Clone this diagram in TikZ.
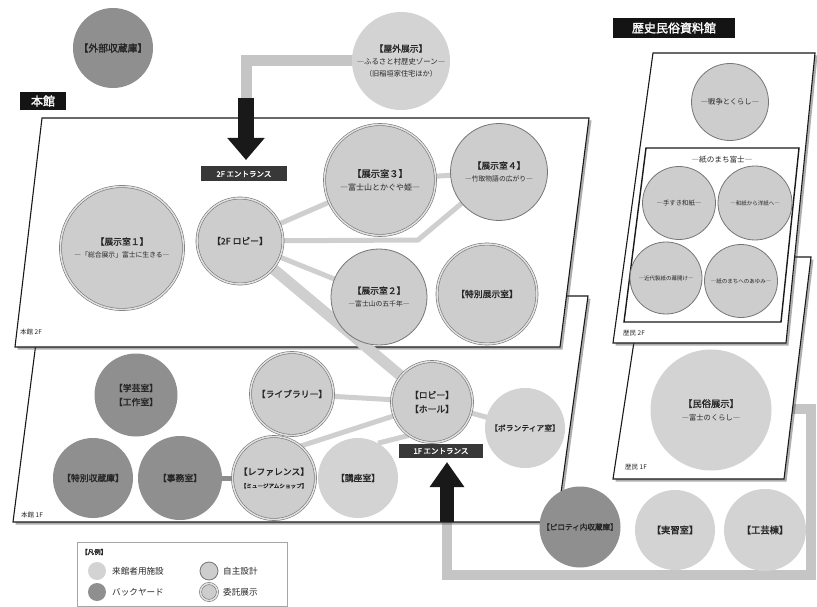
\documentclass[tikz,border=0pt]{standalone}
\usepackage{fontspec}
\setmainfont[AutoFakeBold=1.6]{Noto Sans CJK JP}
\usetikzlibrary{shadows,arrows.meta}
\definecolor{lite}{HTML}{D3D3D3}
\definecolor{dark}{HTML}{8F8F8F}
\definecolor{exh}{HTML}{CDCDCD}
\definecolor{rim}{HTML}{767676}
\definecolor{lnk}{HTML}{CFCFCF}
\definecolor{txt}{HTML}{262626}
\pgfdeclarelayer{under}
\pgfdeclarelayer{panels}
\pgfdeclarelayer{links}
\pgfsetlayers{under,panels,links,main}
\newcommand\mytitle[1]{{\bfseries\fontsize{8.8}{11}\selectfont #1}}
\newcommand\mysub[1]{{\fontsize{6.8}{8.5}\selectfont #1}}
\begin{document}
\begin{tikzpicture}[x=1pt,y=-1pt,
  base/.style={circle,inner sep=0pt,text=txt,align=center},
  visitor/.style={base,fill=lite},
  backyard/.style={base,fill=dark},
  own/.style={base,fill=exh,draw=rim,line width=0.8pt},
  entrust/.style={base,fill=exh,draw=rim,line width=0.6pt,double=exh!60,double distance=1.5pt},
  panel/.style={fill=white,draw=black!90,line width=1.1pt,drop shadow={shadow xshift=2.5pt,shadow yshift=-2.5pt,opacity=0.45,fill=black!70}},
  link/.style={draw=lnk,line width=5pt},
  band/.style={draw=lnk,line width=11pt},
  route/.style={draw=lnk!95!black,line width=10pt},
  tag/.style={fill=black!78,text=white,inner sep=0pt,font=\bfseries\fontsize{7.5}{9}\selectfont},
  bigtag/.style={fill=black!92,text=white,inner sep=0pt,font=\bfseries\fontsize{12}{14}\selectfont},
  floor/.style={anchor=west,text=txt,font=\fontsize{6.5}{8}\selectfont,inner sep=0pt},
  bigarrow/.style={draw=black!90,line width=16pt,-{Triangle[width=36pt,length=22pt]}}
]
\useasboundingbox (0,0) rectangle (817,607);
\begin{pgfonlayer}{under}
\fill[white] (0,0) rectangle (817,607);
\end{pgfonlayer}

% ---------- circles ----------
\node[backyard,minimum size=80] (gaibu) at (113,48) {{\bfseries\fontsize{9.8}{11}\selectfont 【外部収蔵庫】}};
\node[visitor,minimum size=98] (outdoor) at (401,61) {\mytitle{【屋外展示】}\\[1pt]{\fontsize{7.4}{9}\selectfont ―ふるさと村歴史ゾーン―}\\{\fontsize{7.2}{9}\selectfont （旧稲垣家住宅ほか）}};

% 2F
\node[entrust,minimum size=123] (ex1) at (122,248) {\mytitle{【展示室１】}\\[1pt]\mysub{―「総合展示」富士に生きる―}};
\node[entrust,minimum size=86] (lobby2) at (240,241) {\mytitle{【2F ロビー】}};
\node[entrust,minimum size=111] (ex3) at (380,180) {{\bfseries\fontsize{9.3}{11}\selectfont 【展示室３】}\\[1pt]{\fontsize{8}{9.5}\selectfont ―富士山とかぐや姫―}};
\node[own,minimum size=97] (ex4) at (499,172) {\mytitle{【展示室４】}\\[1pt]\mysub{―竹取物語の広がり―}};
\node[own,minimum size=96] (ex2) at (379,297) {\mytitle{【展示室２】}\\[1pt]\mysub{―富士山の五千年―}};
\node[entrust,minimum size=100] (tokubetsu) at (487,294) {\mytitle{【特別展示室】}};

% 1F
\node[backyard,minimum size=83] (gakugei) at (136,395) {\mytitle{【学芸室】}\\[2pt]\mytitle{【工作室】}};
\node[backyard,minimum size=80] (tokushu) at (93,478) {\mytitle{【特別収蔵庫】}};
\node[backyard,minimum size=84] (jimu) at (180,478) {\mytitle{【事務室】}};
\node[entrust,minimum size=83] (lib) at (292,394) {\mytitle{【ライブラリー】}};
\node[entrust,minimum size=83] (ref) at (274,478) {\mytitle{【レファレンス】}\\[1pt]{\bfseries\fontsize{5.6}{7}\selectfont 【ミュージアムショップ】}};
\node[visitor,minimum size=80] (kouza) at (358,478) {\mytitle{【講座室】}};
\node[entrust,minimum size=81] (lobby1) at (432,402) {\mytitle{【ロビー】}\\[2pt]\mytitle{【ホール】}};
\node[visitor,minimum size=80] (volunteer) at (525,428) {{\bfseries\fontsize{7.8}{9}\selectfont 【ボランティア室】}};

% 歴民
\node[own,minimum size=77] (sensou) at (730,102) {{\fontsize{7.3}{8}\selectfont ―戦争とくらし―}};
\node[own,minimum size=73] (kami1) at (679,203) {{\fontsize{6.4}{8}\selectfont ―手すき和紙―}};
\node[own,minimum size=74] (kami2) at (755,203) {{\fontsize{5.5}{7}\selectfont ―和紙から洋紙へ―}};
\node[own,minimum size=72] (kami3) at (666,278) {{\fontsize{5.5}{7}\selectfont ―近代製紙の幕開け―}};
\node[own,minimum size=73] (kami4) at (741,281) {{\fontsize{5.5}{7}\selectfont ―紙のまちへのあゆみ―}};
\node[visitor,minimum size=121] (minzoku) at (711,410) {{\bfseries\fontsize{9.3}{11}\selectfont 【民俗展示】}\\[1pt]{\fontsize{7.3}{8.5}\selectfont ―富士のくらし―}};

% bottom row
\node[backyard,minimum size=81] (piloti) at (580,527) {{\bfseries\fontsize{7.6}{9}\selectfont 【ピロティ内収蔵庫】}};
\node[visitor,minimum size=80] (jisshu) at (675,530) {{\bfseries\fontsize{9.3}{11}\selectfont 【実習室】}};
\node[visitor,minimum size=82] (kougei) at (765,530) {{\bfseries\fontsize{9.3}{11}\selectfont 【工芸棟】}};

% ---------- labels ----------
\node[bigtag,minimum width=46,minimum height=18] (honkan) at (43,101) {本館};
\node[bigtag,minimum width=122,minimum height=20] (rekimin) at (674,28) {歴史民俗資料館};
\node[tag,minimum width=86,minimum height=15] (ent2) at (244,174) {2F エントランス};
\node[tag,minimum width=84,minimum height=14] (ent1) at (441,451) {1F エントランス};
\node[floor] (f2) at (20,332) {本館 2F};
\node[floor] (f1) at (21,515) {本館 1F};
\node[floor] (r2) at (623,333) {歴民 2F};
\node[floor] (r1) at (625,467) {歴民 1F};

% ---------- routes & panels ----------
\coordinate (ent2top) at (246,98);
\coordinate (ent2tip) at (246,160);
\coordinate (ent1bot) at (447,522);
\coordinate (ent1tip) at (447,462);
\coordinate (loopA) at (447,575);
\coordinate (loopB) at (811,575);
\coordinate (loopC) at (811,409);
\coordinate (loopend) at (785,409);
\begin{pgfonlayer}{under}
\draw[route,line width=11pt] (outdoor.center) -| (ent2top);
\draw[route,line join=miter] (ent1bot) -- (loopA) -- (loopB) -- (loopC) -- (loopend);
\draw[route,line width=6pt] (jisshu) -- (jisshu |- loopA);
\draw[route,line width=6pt] (kougei) -- (kougei |- loopA);
\end{pgfonlayer}
\begin{pgfonlayer}{panels}
\draw[panel] (42,296) -- (588,296) -- (557,522) -- (13,522) -- cycle;
\draw[panel] (42,118) -- (589,118) -- (560,347) -- (15,347) -- cycle;
\draw[panel] (647,257) -- (811,257) -- (784,479) -- (613,479) -- cycle;
\draw[panel] (653,53) -- (815,53) -- (786,343) -- (613,343) -- cycle;
\draw[black!90,line width=1.4pt] (646,148) -- (799,148) -- (781,322) -- (624,322) -- cycle;
\end{pgfonlayer}
\node[text=txt,font=\fontsize{7.6}{9}\selectfont,inner sep=0pt] (kamititle) at (722,160) {―紙のまち富士―};

% ---------- links ----------
\coordinate (bend) at (418,240);
\begin{pgfonlayer}{links}
\draw[link] (lobby2.center) -- (ex3.center);
\draw[link] (lobby2.center) -- (bend) -- (ex4.center);
\draw[link] (lobby2.center) -- (ex2.center);
\draw[link] (ex3.center) -- (ex4.center);
\draw[band] (lobby2.center) -- (lobby1.center);
\draw[link] (lib.center) -- (lobby1.center);
\draw[link] (ref.50) -- (lobby1.200);
\draw[link] (kouza.60) -- (lobby1.235);
\draw[link] (lobby1.center) -- (volunteer.center);
\draw[link,draw=black!45] (jimu.center) -- (ref.center);
\end{pgfonlayer}

% ---------- entrance arrows ----------
\draw[bigarrow] (ent2top) -- (ent2tip);
\draw[bigarrow,line width=14pt,-{Triangle[width=33pt,length=25pt]}] (ent1bot) -- (ent1tip);

% ---------- legend ----------
\draw[draw=black!35,fill=white,line width=0.5pt] (77,542) rectangle (287,606);
\node[anchor=west,inner sep=0pt,text=txt,font=\bfseries\fontsize{6.5}{8}\selectfont] (lgt) at (81,552) {【凡例】};
\node[visitor,minimum size=18] (lg1) at (97,571) {};
\node[anchor=west,inner sep=0pt,text=txt,font=\fontsize{8.6}{10}\selectfont] (lg1t) at (112,571) {来館者用施設};
\node[backyard,minimum size=18] (lg2) at (97,592) {};
\node[anchor=west,inner sep=0pt,text=txt,font=\fontsize{8.6}{10}\selectfont] (lg2t) at (112,592) {バックヤード};
\node[own,minimum size=18] (lg3) at (209,571) {};
\node[anchor=west,inner sep=0pt,text=txt,font=\fontsize{8.6}{10}\selectfont] (lg3t) at (223,571) {自主設計};
\node[entrust,minimum size=17] (lg4) at (209,592) {};
\node[anchor=west,inner sep=0pt,text=txt,font=\fontsize{8.6}{10}\selectfont] (lg4t) at (223,592) {委託展示};
\end{tikzpicture}
\end{document}
